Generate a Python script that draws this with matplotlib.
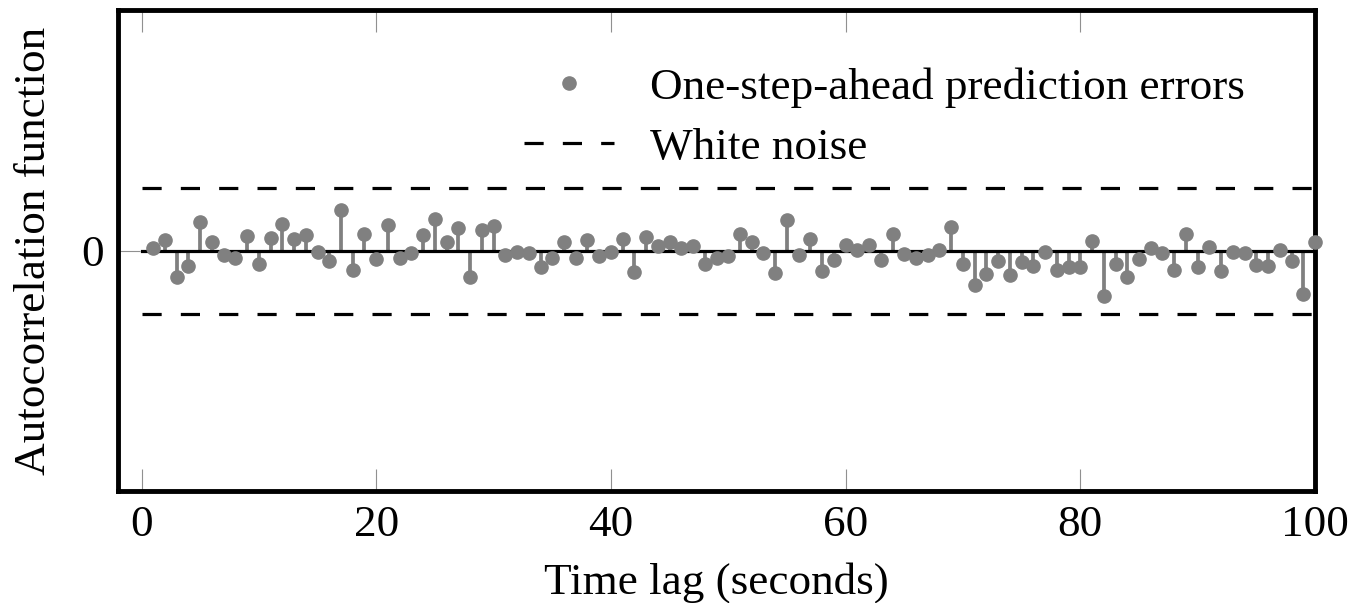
import numpy as np
import matplotlib
matplotlib.use('Agg')
import matplotlib.pyplot as plt
from matplotlib.lines import Line2D

plt.rcParams['font.family'] = ['Liberation Serif', 'DejaVu Serif']
plt.rcParams['mathtext.fontset'] = 'stix'

# lag (s) and autocorrelation of one-step-ahead prediction errors
lags = np.arange(1, 101)
acf = [0.006, 0.021, -0.056, -0.033, 0.060, 0.017, -0.010, -0.015, 0.031, -0.027,
       0.027, 0.056, 0.023, 0.033, -0.002, -0.021, 0.085, -0.040, 0.035, -0.017,
       0.054, -0.015, -0.006, 0.033, 0.065, 0.017, 0.046, -0.056, 0.042, 0.052,
       -0.010, -0.002, -0.006, -0.035, -0.015, 0.017, -0.015, 0.021, -0.012, -0.002,
       0.023, -0.044, 0.029, 0.010, 0.017, 0.006, 0.010, -0.027, -0.015, -0.012,
       0.035, 0.017, -0.006, -0.046, 0.063, -0.010, 0.023, -0.042, -0.019, 0.012,
       0.001, 0.012, -0.019, 0.035, -0.008, -0.015, -0.010, 0.001, 0.048, -0.029,
       -0.071, -0.048, -0.021, -0.050, -0.023, -0.033, -0.004, -0.040, -0.035, -0.035,
       0.019, -0.094, -0.027, -0.054, -0.017, 0.006, -0.006, -0.040, 0.035, -0.035,
       0.008, -0.042, -0.002, -0.006, -0.031, -0.033, 0.002, -0.021, -0.090, 0.017]
bound = 0.131   # white-noise confidence band
x_range = [0, 100]

fs = 32.5
fig = plt.figure(figsize=(13.54, 6.03), dpi=100)
ax = fig.add_axes([0.0872, 0.1857, 0.884, 0.7976])

ml, sl, bl = ax.stem(lags, acf, basefmt='k-')
plt.setp(ml, color='#808080', markersize=9.5, clip_on=False, zorder=4)
plt.setp(sl, color='#808080', linewidth=2.7)
plt.setp(bl, color='black', linewidth=2.3)
bl.set_xdata(x_range)

for b in [bound, -bound]:
    ax.plot(x_range, [b, b], color='black', linewidth=2.3, dashes=(6, 6))

ax.set_xlim(-2, 100)
ax.set_ylim(-0.5, 0.5)
ax.set_xticks([0, 20, 40, 60, 80, 100])
ax.set_yticks([0])
ax.tick_params(direction='in', length=16, width=0.8, color='#909090',
               labelsize=fs, top=True, right=True, pad=10)
for s in ax.spines.values():
    s.set_linewidth(3.5)

ax.set_xlabel('Time lag (seconds)', fontsize=fs, labelpad=12)
ax.set_ylabel('Autocorrelation function', fontsize=fs, labelpad=20)

handles = [Line2D([], [], marker='o', linestyle='none', color='#808080', markersize=9.5),
           Line2D([], [], color='black', linewidth=2.3, dashes=(6, 6))]
ax.legend(handles, ['One-step-ahead prediction errors', 'White noise'],
          loc='upper left', bbox_to_anchor=(0.305, 0.965), frameon=False,
          fontsize=fs, handlelength=2.0, labelspacing=0.42, handletextpad=0.8)

fig.savefig('out.png', dpi=100)
